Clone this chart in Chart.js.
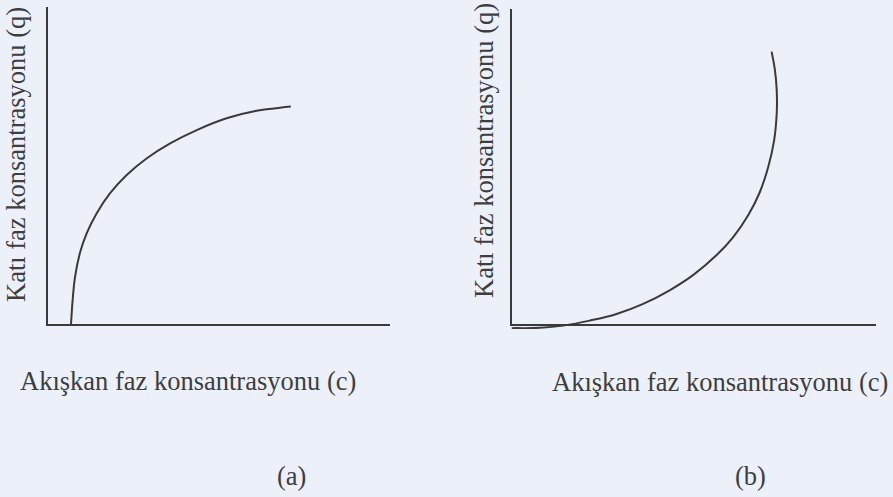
<!DOCTYPE html>
<html>
<head>
<meta charset="utf-8">
<script src="https://cdn.jsdelivr.net/npm/chart.js@4/dist/chart.umd.min.js"></script>
<style>
  html, body { margin: 0; padding: 0; }
  body { width: 893px; height: 497px; background: #ecf1f9; position: relative; overflow: hidden; }
  canvas { position: absolute; }
  .lbl { position: absolute; font-family: 'Liberation Serif', 'Times New Roman', serif; font-size: 26.5px; line-height: 1; color: #3e3e3e; white-space: nowrap; }
  .rot { transform: rotate(-90deg); transform-origin: left top; }
</style>
</head>
<body>
<canvas id="chartA" width="350" height="325" style="left:43px;top:4px"></canvas>
<canvas id="chartB" width="372" height="323" style="left:507px;top:6px"></canvas>
<div id="yA" class="lbl rot" style="left:3px;top:302px"></div>
<div id="yB" class="lbl rot" style="left:471px;top:298px"></div>
<div id="xA" class="lbl" style="left:20px;top:368px"></div>
<div id="xB" class="lbl" style="left:552px;top:369px"></div>
<div id="capA" class="lbl" style="left:277px;top:463px"></div>
<div id="capB" class="lbl" style="left:735px;top:463px"></div>
<script>
// ---------- data ----------
const Y_TITLE = 'Katı faz konsantrasyonu (q)';
const X_TITLE = 'Akışkan faz konsantrasyonu (c)';
const CAPTIONS = ['(a)', '(b)'];

// (a) favourable isotherm
const curveAx = [0.70, 0.75, 0.82, 0.96, 1.16, 1.45, 1.84, 2.33, 2.92, 3.60, 4.38, 5.25, 6.13, 7.13];
const curveAy = [0.00, 0.79, 1.52, 2.26, 2.89, 3.52, 4.15, 4.73, 5.26, 5.73, 6.15, 6.52, 6.76, 6.89];

// (b) unfavourable isotherm
const curveBx = [0.02, 0.80, 1.44, 2.17, 2.90, 3.63, 4.37, 5.01, 5.65, 6.11, 6.52, 6.84, 7.07, 7.23, 7.30, 7.30, 7.25, 7.16];
const curveBy = [-0.10, -0.09, -0.02, 0.14, 0.35, 0.67, 1.11, 1.59, 2.22, 2.80, 3.49, 4.23, 5.03, 5.87, 6.72, 7.46, 8.10, 8.68];

const AXIS_MAX = 10;
const INK = '#3a3a3a';

document.getElementById('yA').textContent = Y_TITLE;
document.getElementById('yB').textContent = Y_TITLE;
document.getElementById('xA').textContent = X_TITLE;
document.getElementById('xB').textContent = X_TITLE;
document.getElementById('capA').textContent = CAPTIONS[0];
document.getElementById('capB').textContent = CAPTIONS[1];

function zip(xs, ys) {
  return xs.map((x, i) => ({ x: x, y: ys[i] }));
}

function axis(horizontal) {
  return {
    type: 'linear',
    min: 0,
    max: AXIS_MAX,
    grid: { display: false },
    border: { display: true, color: INK, width: 2 },
    ticks: { display: false },
    // no tick labels: let the plot area run right up to the axis lines
    afterFit: s => { if (horizontal) s.height = 0; else s.width = 0; },
  };
}

function makeChart(id, points, tension) {
  return new Chart(document.getElementById(id), {
    type: 'scatter',
    data: {
      datasets: [{
        data: points,
        showLine: true,
        borderColor: INK,
        borderWidth: 2,
        pointRadius: 0,
        tension: tension,
        fill: false,
        clip: false,
      }]
    },
    options: {
      responsive: false,
      animation: false,
      layout: { padding: 4 },
      plugins: { legend: { display: false }, tooltip: { enabled: false } },
      scales: { x: axis(true), y: axis(false) },
    }
  });
}

makeChart('chartA', zip(curveAx, curveAy), 0.4);
makeChart('chartB', zip(curveBx, curveBy), 0.4);
</script>
</body>
</html>
